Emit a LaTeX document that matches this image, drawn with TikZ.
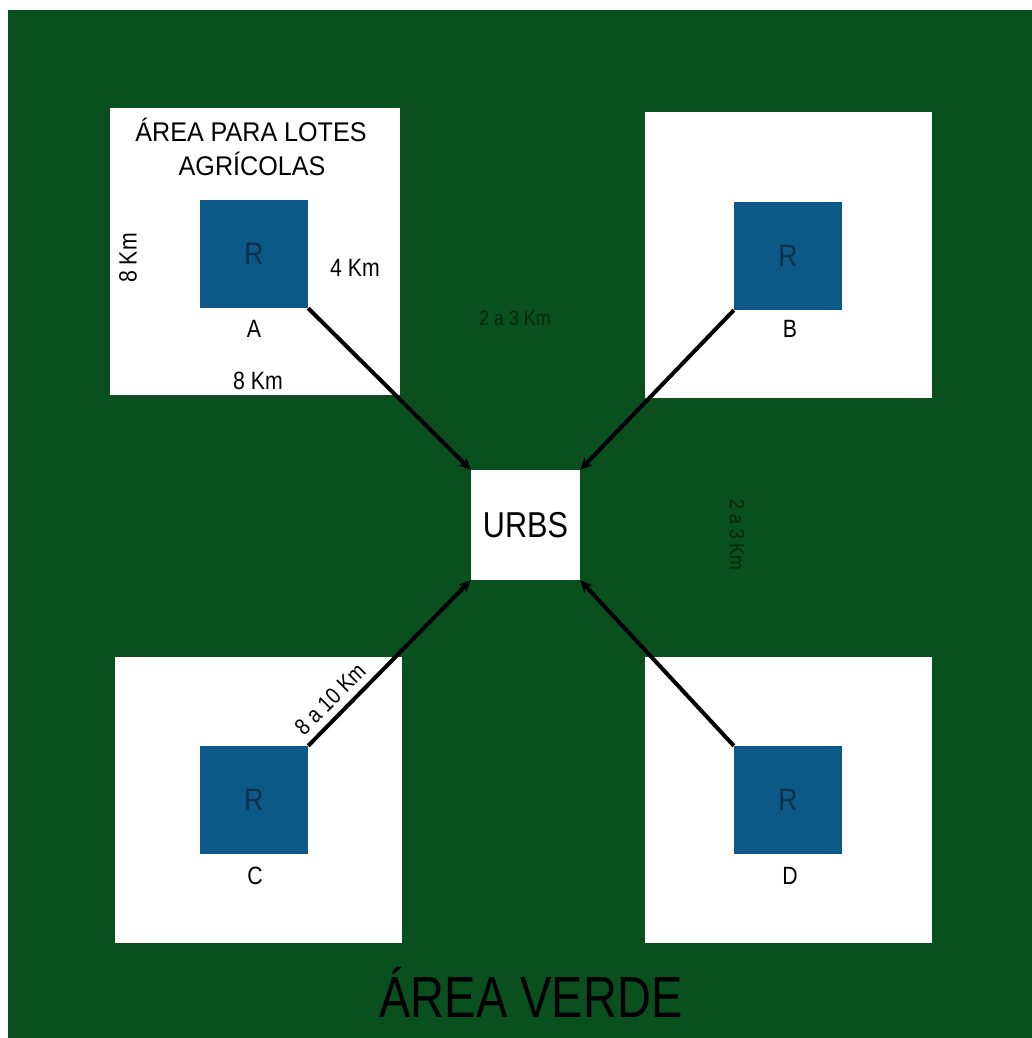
\documentclass[tikz,border=0pt]{standalone}
\usepackage{fontspec}
\setmainfont{Liberation Sans}
\usetikzlibrary{arrows.meta}
\definecolor{verde}{HTML}{0A4F1E}
\definecolor{azul}{HTML}{0C5886}
\definecolor{rtext}{HTML}{0B2E4A}
\definecolor{dimtext}{HTML}{06260E}
\newcommand{\fs}[1]{\fontsize{#1pt}{#1pt}\selectfont}
\newcommand{\nar}[1]{\scalebox{0.85}[1]{#1}}
\tikzset{
  lote/.style={fill=white, draw=none},
  res/.style={fill=azul, draw=none, minimum width=108pt, minimum height=108pt, inner sep=0pt, text=rtext, font=\fs{31}},
  lbl/.style={font=\fs{25}, text=black, inner sep=0pt},
  dim/.style={font=\fs{21}, text=dimtext, inner sep=0pt},
  conn/.style={line width=4pt, -{Stealth[length=12pt,width=11pt]}, black}
}
\begin{document}
\begin{tikzpicture}[x=1pt,y=-1pt]
\useasboundingbox (0,0) rectangle (1032,1038);
\fill[white] (0,0) rectangle (1032,1038);
\fill[verde] (8,10) rectangle (1032,1038);
% agricultural areas
\fill[lote] (110,108) rectangle (400,395);
\fill[lote] (645,112) rectangle (932,398);
\fill[lote] (115,657) rectangle (402,943);
\fill[lote] (645,657) rectangle (932,943);
% residential squares
\node[res] (A) at (254,254) {\nar{R}};
\node[res] (B) at (788,256) {\nar{R}};
\node[res] (C) at (254,800) {\nar{R}};
\node[res] (D) at (788,800) {\nar{R}};
% URBS
\node[fill=white, minimum width=109pt, minimum height=110pt, inner sep=0pt, font=\fs{36}] (U) at (525.5,525) {\scalebox{0.85}[1]{URBS}};
% letters
\node[lbl] (la) at (254,329) {\nar{A}};
\node[lbl] (lb) at (790,329) {\nar{B}};
\node[lbl] (lc) at (255,876) {\nar{C}};
\node[lbl] (ld) at (790,876) {\nar{D}};
% title
\node[font=\fs{27}, anchor=base, inner sep=0pt] (t1) at (251,142) {\scalebox{0.93}[1]{ÁREA PARA LOTES}};
\node[font=\fs{27}, anchor=base, inner sep=0pt] (t2) at (252,175) {\scalebox{0.93}[1]{AGRÍCOLAS}};
% dimensions
\node[lbl, rotate=90] (d1) at (128,258) {\nar{8 Km}};
\node[lbl] (d2) at (355,268) {\nar{4 Km}};
\node[lbl] (d3) at (258,381) {\nar{8 Km}};
\node[dim] (d4) at (515,318) {\nar{2 a 3 Km}};
\node[dim, rotate=-90] (d5) at (737,535) {\nar{2 a 3 Km}};
% connectors
\draw[conn] (A.south east) -- (U.north west);
\draw[conn] (B.south west) -- (U.north east);
\draw[conn] (C.north east) -- (U.south west);
\draw[conn] (D.north west) -- (U.south east);
\node[lbl, font=\fs{23}, rotate=45] (d6) at (330,699) {\nar{8 a 10 Km}};
% green area label
\node[font=\fs{58}, text=black, inner sep=0pt, anchor=base] (verdelbl) at (531,1017) {\scalebox{0.81}[1]{ÁREA VERDE}};
\end{tikzpicture}
\end{document}
